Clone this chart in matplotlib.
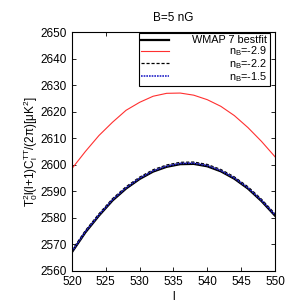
import matplotlib.pyplot as plt
import numpy as np

plt.rcParams['font.family'] = ['Liberation Sans', 'DejaVu Sans']
plt.rcParams['mathtext.default'] = 'regular'
plt.rcParams['font.size'] = 8.5

# multipole l
ell = [520, 522, 524, 526, 528, 530, 532, 534, 536, 538, 540, 542, 544, 546, 548, 550]

# WMAP 7 best fit
wmap = [2567.0, 2574.5, 2580.8, 2586.5, 2591.0, 2594.6, 2597.4, 2599.2,
        2600.2, 2600.3, 2599.4, 2597.5, 2594.7, 2591.0, 2586.3, 2580.8]
# n_B = -2.9
nb29 = [2598.5, 2605.0, 2611.0, 2616.0, 2620.5, 2623.5, 2625.8, 2626.9,
        2627.0, 2626.2, 2624.5, 2622.0, 2618.5, 2614.0, 2608.8, 2603.0]
# n_B = -2.2
nb22 = [2567.7, 2575.2, 2581.5, 2587.2, 2591.7, 2595.3, 2598.1, 2599.9,
        2600.9, 2601.0, 2600.1, 2598.2, 2595.4, 2591.7, 2587.0, 2581.5]
# n_B = -1.5
nb15 = [2567.3, 2574.8, 2581.1, 2586.8, 2591.3, 2594.9, 2597.7, 2599.5,
        2600.5, 2600.6, 2599.7, 2597.8, 2595.0, 2591.3, 2586.6, 2581.1]

fig = plt.figure(figsize=(2.91, 3.05), dpi=100)
ax = fig.add_axes([0.247, 0.112, 0.698, 0.783])

ax.plot(ell, wmap, color='black', lw=1.6, label='WMAP 7 bestfit')
ax.plot(ell, nb29, color='#ff3030', lw=0.8, label='n$_B$=-2.9')
ax.plot(ell, nb22, color='black', lw=0.9, ls=(0, (2.5, 1.5)), label='n$_B$=-2.2')
ax.plot(ell, nb15, color='#2424c8', lw=1.2, ls=(0, (1, 0.6)), label='n$_B$=-1.5')

ax.set_xlim(520, 550)
ax.set_ylim(2560, 2650)
ax.set_xticks(np.arange(520, 551, 5))
ax.set_yticks(np.arange(2560, 2651, 10))
ax.tick_params(direction='in', top=True, right=True, length=3, width=0.6, pad=4)
for s in ax.spines.values():
    s.set_linewidth(0.8)

ax.set_title('B=5 nG', fontsize=8.5, pad=8)
ax.set_xlabel('l', labelpad=2)
ax.set_ylabel('T$_0^2$l(l+1)C$_l^{TT}$/(2π)[μK$^2$]', labelpad=0)

# gnuplot-like key: samples on the left, labels flush right
leg = ax.legend(loc='upper right', bbox_to_anchor=(0.975, 0.997),
                fancybox=False, edgecolor='black', framealpha=1,
                borderpad=0.25, labelspacing=-0.1, handlelength=2.6,
                handletextpad=1.0, borderaxespad=0.0, fontsize=7.8)
leg.get_frame().set_linewidth(0.8)
for col in leg._legend_handle_box.get_children():
    for row in col.get_children():
        row.mode = 'expand'
        row.width = 126

fig.savefig('out.png', dpi=100)
